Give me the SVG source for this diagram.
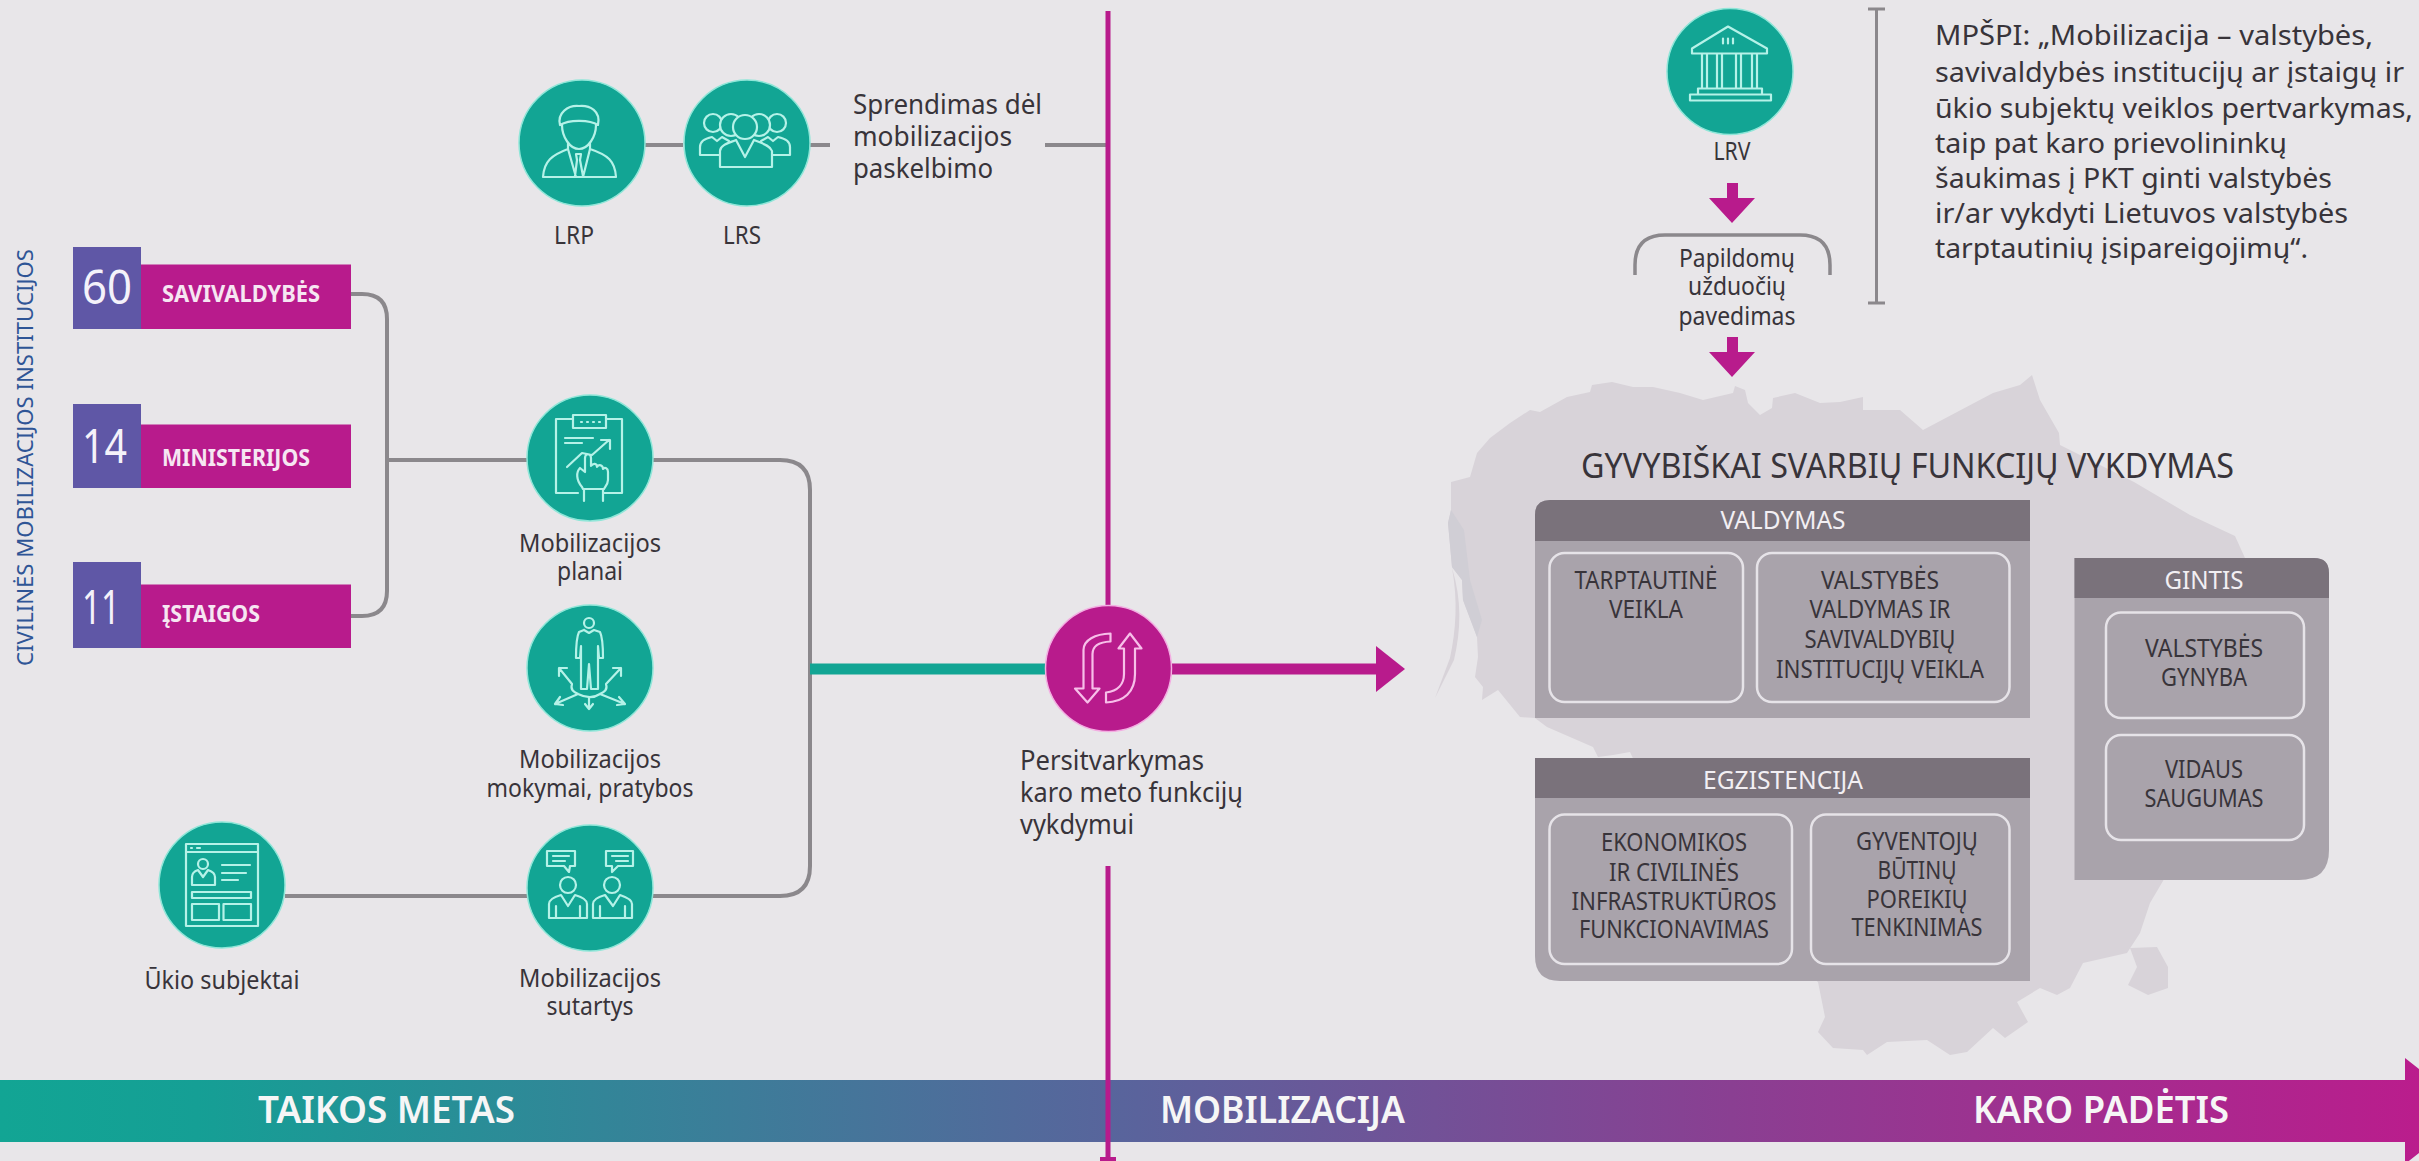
<svg xmlns="http://www.w3.org/2000/svg" width="2419" height="1161" viewBox="0 0 2419 1161">
<style>
text{font-family:"Noto Sans","Open Sans","Liberation Sans",sans-serif;font-size:25px;fill:#38343a}
.m{text-anchor:middle}
.b{font-size:27px}
.q{font-size:28px}
.w{fill:#f2eff3}
.l{font-weight:700;font-size:24px;fill:#f6e6f2}
.n{font-size:48px;fill:#f4f2fa}
.bar{font-size:38px;font-weight:600;fill:#f6f6f6}
.c{fill:#12a594;stroke:#8fe6d8;stroke-width:1.5}
.i{fill:none;stroke:#b5f2e8;stroke-width:2.2;stroke-linejoin:round;stroke-linecap:round}
.f{fill:#12a594;stroke:#b5f2e8;stroke-width:2.2;stroke-linejoin:round}
.g{fill:none;stroke:#8b888c;stroke-width:4}
.body{fill:#a9a3ab}
.hd{fill:#7a727b}
.in{fill:none;stroke:#e6e3e8;stroke-width:2.5}
</style>
<defs>
<linearGradient id="barg" x1="0" x2="1" y1="0" y2="0">
<stop offset="0" stop-color="#12a594"/>
<stop offset="0.08" stop-color="#159f95"/>
<stop offset="0.46" stop-color="#5a639c"/>
<stop offset="0.7" stop-color="#8a3f92"/>
<stop offset="1" stop-color="#be1a8c"/>
</linearGradient>
</defs>
<rect width="2419" height="1161" fill="#e8e6e9"/>

<g id="map">
<path fill="#d8d3d9" d="M1451,510 L1451,482 L1470,477 L1477,453 L1490,438 L1510,423 L1530,410 L1540,412 L1567,397 L1590,392 L1592,385 L1612,382 L1633,387 L1653,387 L1680,393 L1703,400 L1733,393 L1735,386 L1745,390 L1748,403 L1760,415 L1772,408 L1773,398 L1795,393 L1820,403 L1840,402 L1863,397 L1863,410 L1900,410 L1923,430 L1993,393 L2020,385 L2032,375 L2040,400 L2059,433 L2060,445 L2100,465 L2134,482 L2190,515 L2235,536 L2245,558 L2250,700 L2163,881 L2150,903 L2145,918 L2140,933 L2127,953 L2083,963 L2070,988 L2057,995 L2040,988 L2017,1002 L2028,1022 L2005,1038 L1993,1028 L1967,1052 L1950,1055 L1927,1040 L1887,1042 L1867,1055 L1863,1050 L1833,1048 L1818,1032 L1825,1017 L1818,982 L1700,900 L1630,752 L1613,755 L1598,757 L1593,747 L1547,727 L1535,718 L1520,717 L1498,690 L1482,700 L1483,687 L1475,677 L1478,657 L1477,637 L1463,600 L1462,580 L1452,567 L1448,523 Z"/>
<path fill="#d0ced5" d="M1451,510 L1448,523 L1452,567 L1462,580 L1463,600 L1477,637 L1482,620 L1470,580 L1464,530 Z"/>
<path fill="#d8d3d9" d="M1452,568 C1462,600 1461,630 1454,660 L1435,698 L1450,658 C1456,630 1458,600 1452,568 Z"/>
<path fill="#d8d3d9" d="M2130,948 L2157,947 L2168,967 L2168,988 L2148,995 L2128,985 L2137,967 Z"/>
</g>

<g id="timeline">
<path d="M0,1080 H2405 V1058 L2473,1111 L2405,1164 V1142 H0 Z" fill="url(#barg)"/>
<text class="bar" x="258" y="1123" textLength="257" lengthAdjust="spacingAndGlyphs">TAIKOS METAS</text>
<text class="bar" x="1160" y="1123" textLength="245" lengthAdjust="spacingAndGlyphs">MOBILIZACIJA</text>
<text class="bar" x="1973" y="1123" textLength="256" lengthAdjust="spacingAndGlyphs">KARO PADĖTIS</text>
</g>

<g id="connectors" fill="none">
<path class="g" d="M645,145 H683 M810,145 H830 M1045,145 H1106"/>
<path class="g" d="M351,294 H362 Q387,294 387,319 V591 Q387,616 362,616 H351 M387,460 H527"/>
<path class="g" d="M653,460 H780 Q810,460 810,490 V866 Q810,896 780,896 H653 M285,896 H527"/>
<path d="M810,669 H1046" stroke="#12a594" stroke-width="11"/>
<path d="M1171,669 H1380" stroke="#b81b8c" stroke-width="11"/>
<path d="M1376,646 L1405,669 L1376,692 Z" fill="#b81b8c"/>
<path d="M1108,11 V606 M1108,866 V1158" stroke="#b81b8c" stroke-width="5"/>
<path d="M1100,1159 H1116" stroke="#b81b8c" stroke-width="4"/>
<path d="M1727,183 H1738 V198 H1755 L1732,223 L1709,198 H1727 Z" fill="#b81b8c"/>
<path d="M1727,337 H1738 V352 H1755 L1732,377 L1709,352 H1727 Z" fill="#b81b8c"/>
<path d="M1635,275 V265 Q1635,235 1665,235 H1800 Q1830,235 1830,265 V275" stroke="#8b888c" stroke-width="3.500"/>
<path d="M1876.500,9 V303 M1868,9 H1885 M1868,303 H1885" stroke="#8b888c" stroke-width="3"/>
</g>

<g id="lrp" transform="translate(582,143)">
<circle class="c" r="63"/>
<path class="i" d="M-20,-18 C-20,-6 -12,6 -3,6 C6,6 14,-6 14,-18 M-22,-18 C-25,-30 -14,-38 -3,-37 C8,-38 19,-32 16,-18 C8,-23 -12,-24 -22,-18 Z M-39,34 H34 M-39,34 C-38,18 -30,12 -14,6 L-14,0 M34,34 C33,18 26,12 8,6 L8,0 M-14,6 L-6,34 M8,6 L1,34 M-6,11 H-1 L-2,17 L1,33 M-6,11 L-5,17 L-7,33"/>
<text class="m" x="-8" y="101" textLength="40" lengthAdjust="spacingAndGlyphs">LRP</text>
</g>
<g id="lrs" transform="translate(747,143)">
<circle class="c" r="63"/>
<circle class="f" cx="-34" cy="-20" r="9"/>
<circle class="f" cx="30" cy="-20" r="9"/>
<path class="f" d="M-47,12 V4 C-47,-3 -40,-5 -35,-6 L-30,-2 L-25,-6 L-18,-2 V12 Z"/>
<path class="f" d="M43,12 V4 C43,-3 36,-5 31,-6 L26,-2 L21,-6 L14,-2 V12 Z"/>
<circle class="f" cx="-16" cy="-18" r="11"/>
<circle class="f" cx="12" cy="-18" r="11"/>
<circle class="f" cx="-2" cy="-16" r="12"/>
<path class="f" d="M-27,24 V8 C-27,2 -18,0 -11,-3 L-2,14 L7,-3 C14,0 23,2 25,8 V24 Z"/>
<text class="m" x="-5" y="101" textLength="38" lengthAdjust="spacingAndGlyphs">LRS</text>
</g>
<g id="sprendimas">
<text class="b" x="853" y="114" textLength="189" lengthAdjust="spacingAndGlyphs">Sprendimas dėl</text>
<text class="b" x="853" y="146" textLength="159" lengthAdjust="spacingAndGlyphs">mobilizacijos</text>
<text class="b" x="853" y="178" textLength="140" lengthAdjust="spacingAndGlyphs">paskelbimo</text>
</g>

<text id="side" transform="translate(33,666) rotate(-90)" style="font-size:22px;fill:#2f5596" textLength="417" lengthAdjust="spacingAndGlyphs">CIVILINĖS MOBILIZACIJOS INSTITUCIJOS</text>

<g id="savivaldybes">
<rect x="141" y="264.500" width="210" height="64.500" fill="#b81b8c"/>
<rect x="73" y="247" width="68" height="82" fill="#5f57a6"/>
<text class="n" x="82" y="304" textLength="50" lengthAdjust="spacingAndGlyphs">60</text>
<text class="l" x="162" y="302" textLength="158" lengthAdjust="spacingAndGlyphs">SAVIVALDYBĖS</text>
</g>
<g id="ministerijos">
<rect x="141" y="424.500" width="210" height="63.500" fill="#b81b8c"/>
<rect x="73" y="404" width="68" height="84" fill="#5f57a6"/>
<text class="n" x="82" y="463" textLength="45" lengthAdjust="spacingAndGlyphs">14</text>
<text class="l" x="162" y="466" textLength="148" lengthAdjust="spacingAndGlyphs">MINISTERIJOS</text>
</g>
<g id="istaigos">
<rect x="141" y="584.500" width="210" height="63.500" fill="#b81b8c"/>
<rect x="73" y="562" width="68" height="86" fill="#5f57a6"/>
<text class="n" x="82" y="624" textLength="38" lengthAdjust="spacingAndGlyphs">11</text>
<text class="l" x="162" y="622" textLength="98" lengthAdjust="spacingAndGlyphs">ĮSTAIGOS</text>
</g>

<g id="planai" transform="translate(590,458)">
<circle class="c" r="63"/>
<path class="i" d="M-17,-39 H-34 V35 H-12 M16,-39 H32 V35 H14 M-17,-43 H16 V-30 H-17 Z M-9,-36 H-8 M-3,-36 H-2 M3,-36 H4 M9,-36 H10 M-25,-20 H3 M-25,-15 H-8 M-23,9 L-8,-5 L2,-3 L19,-18 M11,-18 H20 V-9 M-8,29 C-14,22 -14,14 -10,10 L-5,14 V0 C-5,-5 1,-5 1,0 V8 C3,5 7,5 7,9 C9,6 13,7 13,11 C15,9 18,10 18,14 V22 C18,26 15,29 14,31 H-7 Z M-6,31 V43 M13,31 V43"/>
<text class="m" x="0" y="94" textLength="142" lengthAdjust="spacingAndGlyphs">Mobilizacijos</text>
<text class="m" x="0" y="122" textLength="66" lengthAdjust="spacingAndGlyphs">planai</text>
</g>
<g id="mokymai" transform="translate(590,668)">
<circle class="c" r="63"/>
<circle class="i" cx="-1" cy="-45" r="5"/>
<path class="i" d="M-6,-38 L-1,-35 L4,-38 L10,-36 C13,-30 13,-14 13,-10 L9,-10 L8,-22 M-6,-38 L-11,-36 C-14,-30 -14,-14 -14,-10 L-10,-10 L-9,-22 M8,-22 L8,21 L1,21 L-1,-4 L-3,21 L-9,21 L-9,-22 M-31,0 L-18,16 C-20,22 -16,24 -12,26 C-4,30 4,30 10,26 C14,24 18,22 16,16 L31,0 M-31,0 V8 M-31,0 H-23 M31,0 V8 M31,0 H23 M-12,26 L-35,36 M-35,36 L-30,29 M-35,36 L-27,37 M10,26 L35,36 M35,36 L29,29 M35,36 L27,37 M-1,29 V41 M-1,41 L-5,36 M-1,41 L3,36"/>
<text class="m" x="0" y="100" textLength="142" lengthAdjust="spacingAndGlyphs">Mobilizacijos</text>
<text class="m" x="0" y="129" textLength="207" lengthAdjust="spacingAndGlyphs">mokymai, pratybos</text>
</g>
<g id="sutartys" transform="translate(590,888)">
<circle class="c" r="63"/>
<path class="i" d="M-43,-37 H-15 V-22 H-20 L-21,-16 L-26,-22 H-43 Z M-37,-32 H-21 M-37,-27 H-25 M16,-37 H43 V-22 H28 L22,-16 L22,-22 H16 Z M22,-32 H38 M26,-27 H38 M-41,30 H-3 V16 C-3,12 -8,9 -15,7 L-22,18 L-29,7 C-36,9 -41,12 -41,16 Z M-34,18 V30 M-10,18 V30 M3,30 H42 V16 C42,12 36,9 30,7 L23,18 L15,7 C8,9 3,12 3,16 Z M10,18 V30 M35,18 V30"/>
<circle class="i" cx="-22" cy="-3" r="8"/>
<circle class="i" cx="22" cy="-3" r="8"/>
<text class="m" x="0" y="99" textLength="142" lengthAdjust="spacingAndGlyphs">Mobilizacijos</text>
<text class="m" x="0" y="127" textLength="87" lengthAdjust="spacingAndGlyphs">sutartys</text>
</g>
<g id="ukio" transform="translate(222,885)">
<circle class="c" r="63"/>
<path class="i" d="M-36,-41 H36 V41 H-36 Z M-36,-33 H36 M-31,-37 H-30 M-25,-37 H-22 M-30,0 H-7 V-8 C-7,-12 -11,-14 -14,-15 L-19,-8 L-24,-15 C-27,-14 -30,-12 -30,-8 Z M0,-20 H28 M0,-12 H24 M0,-5 H16 M-30,7 H29 V13 H-30 Z M-30,19 H-3 V35 H-30 Z M1.500,19 H29 V35 H1.500 Z"/>
<circle class="i" cx="-19" cy="-21" r="5"/>
<text class="m" x="0" y="104" textLength="155" lengthAdjust="spacingAndGlyphs">Ūkio subjektai</text>
</g>

<g id="persitvarkymas">
<circle cx="1108.500" cy="668.500" r="63" fill="#b81b8c" stroke="#f3aee2" stroke-width="1.500"/>
<path fill="none" stroke="#f7bfe9" stroke-width="2.200" stroke-linejoin="round" d="M1083.500,688.500 V650 C1083.500,640 1095,634 1110.500,633.500 V641.500 C1099,642 1092.500,646 1092.500,654 V688.500 H1099.500 L1087.500,702.500 L1075,688.500 Z M1124,648.500 V674 C1124,684 1118,691 1106,692.500 V702.500 C1124,702 1135,692 1135,674 V648.500 H1141.500 L1130,633.500 L1118.500,648.500 Z"/>
<text class="b" x="1020" y="770" textLength="184" lengthAdjust="spacingAndGlyphs">Persitvarkymas</text>
<text class="b" x="1020" y="802" textLength="223" lengthAdjust="spacingAndGlyphs">karo meto funkcijų</text>
<text class="b" x="1020" y="834" textLength="114" lengthAdjust="spacingAndGlyphs">vykdymui</text>
</g>

<g id="lrv" transform="translate(1730,71.500)">
<circle class="c" r="63"/>
<path class="i" d="M-38,-23 L-2,-45 L37,-23 V-18 H-38 Z M-7,-33 V-28 M-2,-33 V-28 M3,-33 V-28 M-28,-18 V17 M-23,-18 V17 M-13,-18 V17 M-8,-18 V17 M6,-18 V17 M11,-18 V17 M22,-18 V17 M27,-18 V17 M-32,17 H32 V23 H-32 Z M-40,23 H41 V29 H-40 Z"/>
<text class="m" x="2" y="88.500" textLength="37" lengthAdjust="spacingAndGlyphs">LRV</text>
</g>
<g id="pavedimas">
<text class="m" x="1737" y="267" textLength="116" lengthAdjust="spacingAndGlyphs">Papildomų</text>
<text class="m" x="1737" y="295" textLength="98" lengthAdjust="spacingAndGlyphs">užduočių</text>
<text class="m" x="1737" y="325" textLength="117" lengthAdjust="spacingAndGlyphs">pavedimas</text>
</g>
<g id="mpspi">
<text class="q" x="1935" y="45" textLength="438" lengthAdjust="spacingAndGlyphs">MPŠPI: „Mobilizacija – valstybės,</text>
<text class="q" x="1935" y="82" textLength="469" lengthAdjust="spacingAndGlyphs">savivaldybės institucijų ar įstaigų ir</text>
<text class="q" x="1935" y="118" textLength="478" lengthAdjust="spacingAndGlyphs">ūkio subjektų veiklos pertvarkymas,</text>
<text class="q" x="1935" y="153" textLength="352" lengthAdjust="spacingAndGlyphs">taip pat karo prievolininkų</text>
<text class="q" x="1935" y="188" textLength="397" lengthAdjust="spacingAndGlyphs">šaukimas į PKT ginti valstybės</text>
<text class="q" x="1935" y="223" textLength="413" lengthAdjust="spacingAndGlyphs">ir/ar vykdyti Lietuvos valstybės</text>
<text class="q" x="1935" y="258" textLength="373" lengthAdjust="spacingAndGlyphs">tarptautinių įsipareigojimų“.</text>
</g>

<text id="title" x="1581" y="478" style="font-size:35px" textLength="653" lengthAdjust="spacingAndGlyphs">GYVYBIŠKAI SVARBIŲ FUNKCIJŲ VYKDYMAS</text>

<g id="valdymas">
<path class="body" d="M1535,515 Q1535,500 1550,500 H2030 V718 H1535 Z"/>
<path class="hd" d="M1535,541 V515 Q1535,500 1550,500 H2030 V541 Z"/>
<text class="m w" x="1783" y="529" textLength="125" lengthAdjust="spacingAndGlyphs">VALDYMAS</text>
<rect class="in" x="1549.500" y="553" width="193.500" height="149" rx="15"/>
<rect class="in" x="1757" y="553" width="252.500" height="149" rx="15"/>
<text class="m" x="1646" y="589" textLength="143" lengthAdjust="spacingAndGlyphs">TARPTAUTINĖ</text>
<text class="m" x="1646" y="618" textLength="74" lengthAdjust="spacingAndGlyphs">VEIKLA</text>
<text class="m" x="1880" y="589" textLength="118" lengthAdjust="spacingAndGlyphs">VALSTYBĖS</text>
<text class="m" x="1880" y="618" textLength="141" lengthAdjust="spacingAndGlyphs">VALDYMAS IR</text>
<text class="m" x="1880" y="648" textLength="151" lengthAdjust="spacingAndGlyphs">SAVIVALDYBIŲ</text>
<text class="m" x="1880" y="678" textLength="208" lengthAdjust="spacingAndGlyphs">INSTITUCIJŲ VEIKLA</text>
</g>
<g id="egzistencija">
<path class="body" d="M1535,758 H2030 V981 H1560 Q1535,981 1535,956 Z"/>
<rect class="hd" x="1535" y="758" width="495" height="40"/>
<text class="m w" x="1783" y="789" textLength="160" lengthAdjust="spacingAndGlyphs">EGZISTENCIJA</text>
<rect class="in" x="1549.500" y="814.500" width="242.500" height="149.500" rx="15"/>
<rect class="in" x="1811" y="814.500" width="198.500" height="149.500" rx="15"/>
<text class="m" x="1674" y="851" textLength="146" lengthAdjust="spacingAndGlyphs">EKONOMIKOS</text>
<text class="m" x="1674" y="881" textLength="130" lengthAdjust="spacingAndGlyphs">IR CIVILINĖS</text>
<text class="m" x="1674" y="910" textLength="205" lengthAdjust="spacingAndGlyphs">INFRASTRUKTŪROS</text>
<text class="m" x="1674" y="938" textLength="190" lengthAdjust="spacingAndGlyphs">FUNKCIONAVIMAS</text>
<text class="m" x="1917" y="850" textLength="122" lengthAdjust="spacingAndGlyphs">GYVENTOJŲ</text>
<text class="m" x="1917" y="879" textLength="79" lengthAdjust="spacingAndGlyphs">BŪTINŲ</text>
<text class="m" x="1917" y="908" textLength="101" lengthAdjust="spacingAndGlyphs">POREIKIŲ</text>
<text class="m" x="1917" y="936" textLength="131" lengthAdjust="spacingAndGlyphs">TENKINIMAS</text>
</g>
<g id="gintis">
<path class="body" d="M2074.500,558 H2314 Q2329,558 2329,573 V850 Q2329,880 2299,880 H2074.500 Z"/>
<path class="hd" d="M2074.500,558 H2314 Q2329,558 2329,573 V598 H2074.500 Z"/>
<text class="m w" x="2204" y="589" textLength="79" lengthAdjust="spacingAndGlyphs">GINTIS</text>
<rect class="in" x="2106" y="612.500" width="198" height="105.500" rx="15"/>
<rect class="in" x="2106" y="735" width="198" height="105" rx="15"/>
<text class="m" x="2204" y="657" textLength="118" lengthAdjust="spacingAndGlyphs">VALSTYBĖS</text>
<text class="m" x="2204" y="686" textLength="86" lengthAdjust="spacingAndGlyphs">GYNYBA</text>
<text class="m" x="2204" y="778" textLength="78" lengthAdjust="spacingAndGlyphs">VIDAUS</text>
<text class="m" x="2204" y="807" textLength="119" lengthAdjust="spacingAndGlyphs">SAUGUMAS</text>
</g>
</svg>
